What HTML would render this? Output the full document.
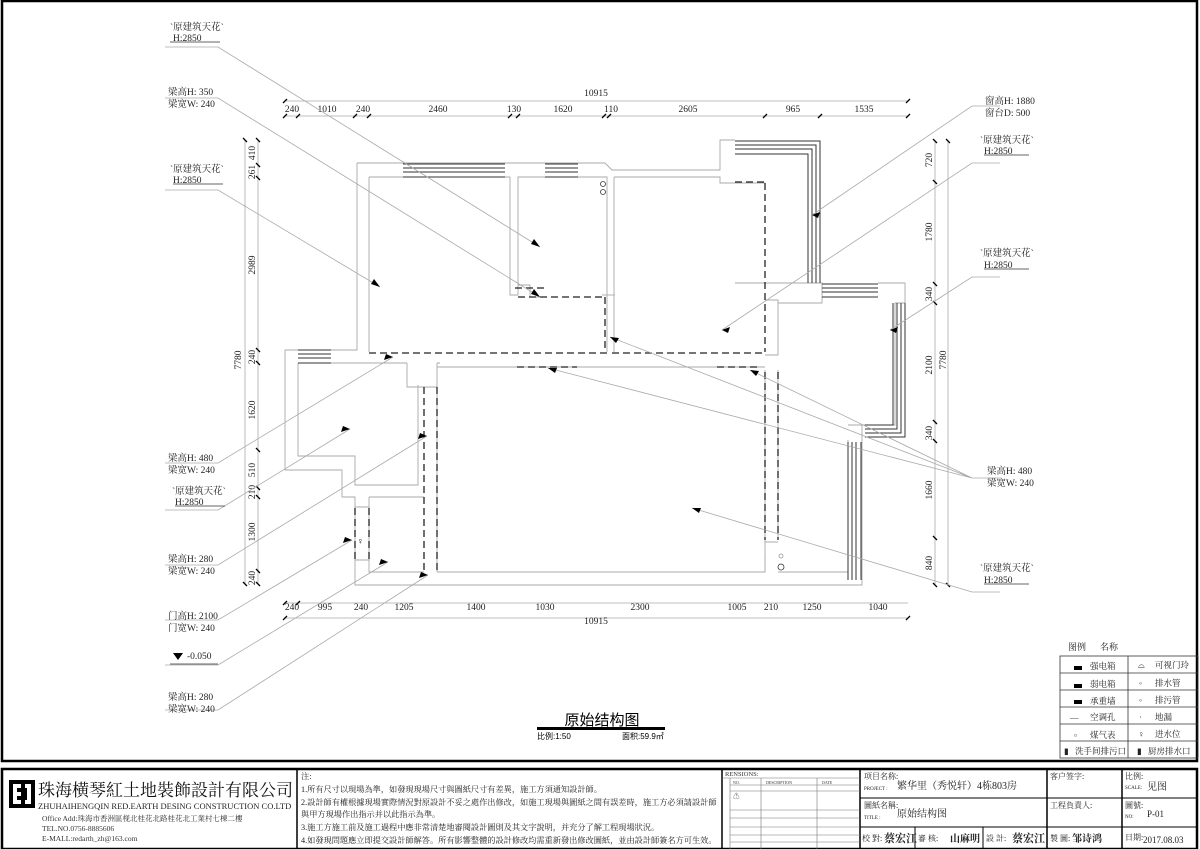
<!DOCTYPE html>
<html><head><meta charset="utf-8"><style>
html,body{margin:0;padding:0;background:#fff;}
svg{display:block;font-family:"Liberation Serif","Noto Serif CJK SC",serif;}
</style></head><body>
<svg width="1200" height="849" viewBox="0 0 1200 849" xmlns="http://www.w3.org/2000/svg">
<rect x="0" y="0" width="1200" height="849" fill="#fff"/>
<rect x="2" y="1" width="1195" height="760" fill="none" stroke="#000" stroke-width="2.5"/>
<rect x="2" y="769" width="1195" height="80" fill="none" stroke="#000" stroke-width="2.5"/>

<g stroke="#aaa" stroke-width="0.8" fill="none">
<line x1="285" y1="101" x2="908" y2="101"/>
<line x1="285" y1="116" x2="908" y2="116"/>
<line x1="245" y1="140" x2="245" y2="584"/>
<line x1="258" y1="140" x2="258" y2="584"/>
<line x1="285" y1="603" x2="908" y2="603"/>
<line x1="285" y1="618" x2="908" y2="618"/>
<line x1="935" y1="141" x2="935" y2="585"/>
<line x1="948" y1="141" x2="948" y2="585"/>
</g>
<g stroke="#000" stroke-width="1.3">
<path d="M283,103l4,-4M283,118l4,-4M296,118l4,-4M353,118l4,-4M367,118l4,-4M508,118l4,-4M516,118l4,-4M602,118l4,-4M607,118l4,-4M763,118l4,-4M818,118l4,-4M906,118l4,-4M906,103l4,-4"/>
<path d="M243,138l4,4M256,138l4,4M256,163l4,4M256,176l4,4M256,348l4,4M256,361l4,4M256,448l4,4M256,486l4,4M256,495l4,4M256,569l4,4M256,582l4,4M243,582l4,4"/>
<path d="M283,605l4,-4M296,605l4,-4M283,620l4,-4M906,620l4,-4"/>
<path d="M933,139l4,4M946,139l4,4M933,180l4,4M933,282l4,4M933,301l4,4M933,420l4,4M933,439l4,4M933,536l4,4M933,583l4,4M946,583l4,4"/>
</g>
<g font-size="9.5" fill="#222" text-anchor="middle">
<text x="596" y="96">10915</text>
<text x="292" y="112">240</text><text x="327" y="112">1010</text><text x="363" y="112">240</text><text x="438" y="112">2460</text>
<text x="514" y="112">130</text><text x="563" y="112">1620</text><text x="611" y="112">110</text><text x="688" y="112">2605</text>
<text x="793" y="112">965</text><text x="864" y="112">1535</text>
<text x="292" y="610">240</text><text x="325" y="610">995</text><text x="361" y="610">240</text><text x="404" y="610">1205</text>
<text x="476" y="610">1400</text><text x="545" y="610">1030</text><text x="640" y="610">2300</text><text x="737" y="610">1005</text>
<text x="771" y="610">210</text><text x="812" y="610">1250</text><text x="878" y="610">1040</text>
<text x="596" y="624">10915</text>
<g transform="rotate(-90)">
<text x="-153" y="255">410</text><text x="-172" y="255">261</text><text x="-265" y="255">2989</text><text x="-357" y="255">240</text>
<text x="-410" y="255">1620</text><text x="-470" y="255">510</text><text x="-492" y="255">210</text><text x="-532" y="255">1300</text>
<text x="-578" y="255">240</text><text x="-360" y="241">7780</text>
<text x="-160" y="932">720</text><text x="-232" y="932">1780</text><text x="-294" y="932">340</text><text x="-365" y="932">2100</text>
<text x="-433" y="932">340</text><text x="-490" y="932">1660</text><text x="-563" y="932">840</text><text x="-360" y="946">7780</text>
</g>
</g>

<!-- walls -->
<g stroke="#aaa" stroke-width="0.9" fill="none">
<path d="M357,163 H605 L612,170 H720 V163"/>
<path d="M369,177 H510 V295 H518 V177 H607 V352"/>
<path d="M614,177 H720 V183 H765"/>
<path d="M357,163 V350 H285 V470 H342 V497 H355 V585 H862 V425 H848"/>
<path d="M369,177 V352"/>
<path d="M298,363 H407 M437,363 H440 M437,367 H765"/>
<path d="M407,363 V387 H437 V572 M437,363 V387"/>
<path d="M298,363 V456 H355 V485 H418 V385"/>
<path d="M369,497 H424 M369,497 V572 H424 M355,507 H369 M355,560 H369"/>
<path d="M437,572 H765 V555 M778,572 H848 V440"/>
<path d="M614,177 V352 M765,300 H778 V303 H822 V283 H735 M765,355 H778 V303"/>
<path d="M878,283 H905 V303 H895 V425 H862"/>
<path d="M765,370 V572 M778,370 V540 M765,542 H778"/>
<path d="M518,285 H530 V297 H545"/>
<path d="M720,163 V140 H735"/>
<path d="M602,295 H615"/>
</g>
<g stroke="#333" stroke-width="1" fill="none">
<path d="M403,164H505M403,168H505M403,172H505M403,177H505"/>
<path d="M545,164H578M545,168H578M545,172H578M545,177H578"/>
<path d="M735,141H820V283M735,145H816V283M735,149H812V283M735,154H808V283"/>
<path d="M822,284H878M822,288H878M822,292H878M822,297H878"/>
<path d="M905,303V437H865M901,303V433H865M897,303V429H865M893,303V425H865"/>
<path d="M848,442V580M852,442V580M856,442V580M861,442V580"/>
<path d="M298,350H331M298,354H331M298,358H331M298,363H331"/>
</g>
<circle cx="603" cy="184" r="2.5" fill="none" stroke="#333" stroke-width="0.8"/>
<circle cx="603" cy="192" r="2.5" fill="none" stroke="#333" stroke-width="0.8"/>
<circle cx="781" cy="567" r="3" fill="none" stroke="#333" stroke-width="0.8"/>
<circle cx="781" cy="556" r="2" fill="none" stroke="#999" stroke-width="0.8"/>
<g stroke="#222" stroke-width="1.3" fill="none" stroke-dasharray="7,4">
<path d="M369,353H607"/><path d="M612,353H765"/>
<path d="M605,297V352"/><path d="M518,297H605"/><path d="M515,288H545"/>
<path d="M765,183V352"/><path d="M735,182H765"/>
<path d="M517,367H577"/><path d="M717,367H760"/>
<path d="M424,387V572"/><path d="M437,387V572"/>
<path d="M355,508V560"/><path d="M369,508V560"/>
<path d="M765,372V540"/><path d="M778,372V540"/>
</g>
<text x="357" y="544" font-size="9">♀</text>

<g stroke="#aaa" stroke-width="0.8" fill="none">
<path d="M165,47H218L540,247"/>
<path d="M165,98H218L540,297"/>
<path d="M165,190H218L380,287"/>
<path d="M165,463H218L393,357"/>
<path d="M165,510H218L350,429"/>
<path d="M165,565H218L427,436"/>
<path d="M165,620H218L352,540"/>
<path d="M165,665H218L388,562"/>
<path d="M165,710H218L428,575"/>
<path d="M1000,106H972L812,215"/>
<path d="M1000,163H972L722,330"/>
<path d="M1000,277H972L890,330"/>
<path d="M1000,478H972L548,368M972,478L610,337M972,478L750,370"/>
<path d="M1000,592H972L692,508"/>
</g>
<g fill="#000">
<path d="M540,247l-9,-3l3,-5z"/><path d="M540,297l-9,-3l3,-5z"/><path d="M380,287l-9,-3l3,-5z"/>
<path d="M393,357l-9,3l2,-6z"/><path d="M350,429l-9,3l2,-6z"/><path d="M427,436l-9,3l2,-6z"/>
<path d="M352,540l-9,3l2,-6z"/><path d="M388,562l-9,3l2,-6z"/><path d="M428,575l-9,3l2,-6z"/>
<path d="M812,215l8,-3l-2,6z"/><path d="M722,330l8,-3l-2,6z"/><path d="M890,330l8,-3l-2,6z"/>
<path d="M548,368l9,0l-2,5z"/><path d="M610,337l9,1l-3,5z"/><path d="M750,370l9,1l-3,5z"/><path d="M692,508l9,0l-2,5z"/>
</g>
<g font-size="9.5" fill="#222">
<text x="170" y="30">`原建筑天花`</text><text x="173" y="41">H:2850</text>
<text x="168" y="95">梁高H: 350</text><text x="168" y="107">梁宽W: 240</text>
<text x="170" y="172">`原建筑天花`</text><text x="173" y="183">H:2850</text>
<text x="168" y="461">梁高H: 480</text><text x="168" y="473">梁宽W: 240</text>
<text x="172" y="494">`原建筑天花`</text><text x="175" y="505">H:2850</text>
<text x="168" y="562">梁高H: 280</text><text x="168" y="574">梁宽W: 240</text>
<text x="168" y="619">门高H: 2100</text><text x="168" y="631">门宽W: 240</text>
<path d="M173,653h10l-5,7z" fill="#000"/><text x="187" y="659">-0.050</text>
<text x="168" y="700">梁高H: 280</text><text x="168" y="712">梁宽W: 240</text>
<text x="985" y="104">窗高H: 1880</text><text x="985" y="116">窗台D: 500</text>
<text x="980" y="143">`原建筑天花`</text><text x="984" y="154">H:2850</text>
<text x="980" y="256">`原建筑天花`</text><text x="984" y="268">H:2850</text>
<text x="987" y="474">梁高H: 480</text><text x="987" y="486">梁宽W: 240</text>
<text x="980" y="571">`原建筑天花`</text><text x="984" y="583">H:2850</text>
</g>
<g stroke="#333" stroke-width="0.7"><path d="M170,42h50M173,184h50M175,506h50M170,664h48M984,155h45M984,269h45M984,584h45"/></g>

<text x="602" y="725" font-size="15" text-anchor="middle" font-family="Liberation Sans,'Noto Sans CJK SC',sans-serif">原始结构图</text>
<rect x="537" y="727" width="128" height="3" fill="#000"/>
<text x="537" y="739" font-size="8" font-family="Liberation Sans,'Noto Sans CJK SC',sans-serif">比例:1:50</text>
<text x="622" y="739" font-size="8" font-family="Liberation Sans,'Noto Sans CJK SC',sans-serif">面积:59.9㎡</text>

<g font-size="9" fill="#222">
<text x="1068" y="650">图例</text><text x="1100" y="650">名称</text>
</g>
<g stroke="#333" stroke-width="0.8" fill="none">
<rect x="1060" y="656" width="138" height="102"/>
<path d="M1060,673H1198M1060,690H1198M1060,707H1198M1060,724H1198M1060,741H1198M1128,656V758"/>
</g>
<g font-size="8.5" fill="#222">
<rect x="1074" y="666" width="8" height="4" fill="#000"/><text x="1090" y="669">强电箱</text>
<rect x="1074" y="684" width="8" height="4" fill="#000"/><text x="1090" y="687">弱电箱</text>
<rect x="1074" y="700" width="8" height="4" fill="#000"/><text x="1090" y="704">承重墙</text>
<text x="1070" y="720">—</text><text x="1090" y="720">空调孔</text>
<text x="1074" y="738">▫</text><text x="1090" y="738">煤气表</text>
<text x="1064" y="754">▮</text><text x="1075" y="754">洗手间排污口</text>
<text x="1138" y="668">⌓</text><text x="1155" y="668">可视门玲</text>
<text x="1139" y="686">◦</text><text x="1155" y="686">排水管</text>
<text x="1139" y="703">◦</text><text x="1155" y="703">排污管</text>
<text x="1139" y="720">·</text><text x="1155" y="720">地漏</text>
<text x="1138" y="737">♀</text><text x="1155" y="737">进水位</text>
<text x="1137" y="754">▮</text><text x="1148" y="754">厨房排水口</text>
</g>

<g stroke="#000" fill="none">
<path d="M297,769V849M722,769V849M860,769V849M1047,769V849M1122,769V849" stroke-width="1.5"/>
<path d="M860,798H1197M860,827H1197" stroke-width="1"/>
<path d="M915,827V849M983,827V849" stroke-width="1"/>
<path d="M722,778H860M730,785H860M730,791H860M730,810H860M730,818H860M730,827H860M730,835H860M730,842H860M730,778V849M761,778V849M817,778V849" stroke="#777" stroke-width="0.6"/>
</g>
<rect x="9" y="780" width="26" height="28" fill="#000"/>
<path d="M13,784h8v4h-4v4h4v4h-4v4h4v4h-8zM25,784h6v20h-6v-4h2v-12h-2z" fill="#fff"/>
<text x="38" y="796" font-size="17" fill="#111">珠海横琴紅土地裝飾設計有限公司</text>
<text x="38" y="809" font-size="8.5" fill="#222">ZHUHAIHENGQIN RED.EARTH DESING CONSTRUCTION CO.LTD</text>
<g font-size="7.5" fill="#333">
<text x="42" y="821">Office Add:珠海市香洲區枧北桂花北路桂花北工業村七棟二樓</text>
<text x="42" y="831">TEL.NO.0756-8885606</text>
<text x="42" y="841">E-MALL:redarth_zh@163.com</text>
</g>
<g font-size="8.2" fill="#222">
<text x="301" y="779">注:</text>
<text x="301" y="792">1.所有尺寸以現場為準，如發現現場尺寸與圖紙尺寸有差異，施工方須通知設計師。</text>
<text x="301" y="805">2.設計師有權根據現場實際情況對原設計不妥之處作出修改，如施工現場與圖紙之間有誤差時，施工方必須請設計師</text>
<text x="301" y="817">與甲方現場作出指示并以此指示為準。</text>
<text x="301" y="830">3.施工方施工前及施工過程中應非常清楚地審閱設計圖則及其文字說明，并充分了解工程現場狀況。</text>
<text x="301" y="843">4.如發現問題應立即提交設計師解答。所有影響整體的設計修改均需重新發出修改圖紙，並由設計師簽名方可生效。</text>
</g>
<g font-size="6.5" fill="#333">
<text x="725" y="776">RENSIONS:</text>
<text x="733" y="784" font-size="4">NO.</text><text x="766" y="784" font-size="4">DESCRIPTION</text><text x="822" y="784" font-size="4">DATE</text>
<text x="733" y="798">⚠</text>
</g>
<g fill="#222">
<text x="864" y="779" font-size="8">项目名称:</text><text x="864" y="790" font-size="5">PROJECT :</text>
<text x="897" y="789" font-size="10">繁华里（秀悦轩）4栋803房</text>
<text x="864" y="808" font-size="8">圖紙名稱:</text><text x="864" y="819" font-size="5">TITLE :</text>
<text x="897" y="817" font-size="10">原始结构图</text>
<text x="862" y="841" font-size="8">校 對:</text><text x="884" y="842" font-size="11" font-weight="bold">蔡宏江</text>
<text x="918" y="841" font-size="8">審 核:</text><text x="950" y="842" font-size="10" font-weight="bold">山麻明</text>
<text x="986" y="841" font-size="8">設 計:</text><text x="1012" y="842" font-size="11" font-weight="bold">蔡宏江</text>
<text x="1050" y="779" font-size="8">客户签字:</text>
<text x="1050" y="808" font-size="8">工程負責人:</text>
<text x="1050" y="841" font-size="8">製 圖:</text><text x="1072" y="842" font-size="10" font-weight="bold">邹诗鸿</text>
<text x="1125" y="779" font-size="8">比例:</text><text x="1125" y="789" font-size="5">SCALE:</text><text x="1147" y="790" font-size="10">见图</text>
<text x="1125" y="808" font-size="8">圖號:</text><text x="1125" y="818" font-size="5">NO:</text><text x="1147" y="817" font-size="9">P-01</text>
<text x="1125" y="840" font-size="8">日期:</text><text x="1143" y="843" font-size="9">2017.08.03</text>
</g>
</svg>
</body></html>
